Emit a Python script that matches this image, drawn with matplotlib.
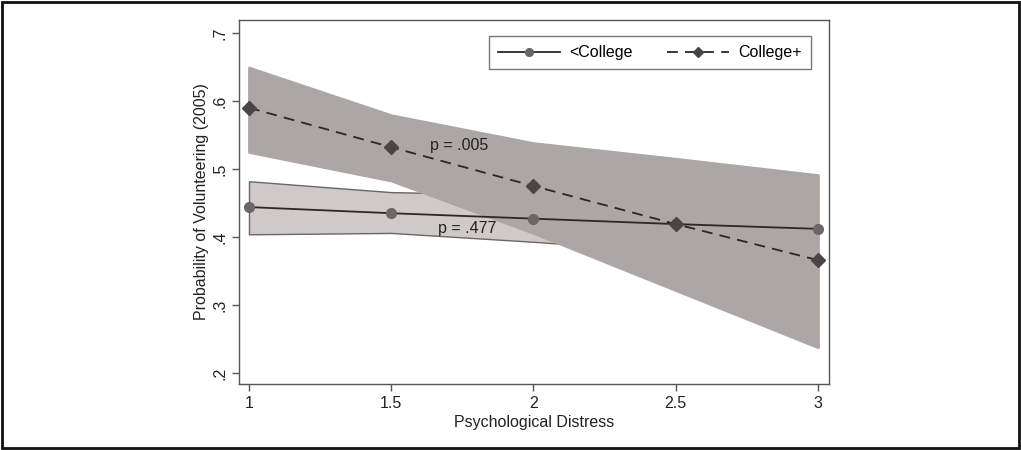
import matplotlib
matplotlib.use('Agg')
import matplotlib.pyplot as plt
from matplotlib.patches import Rectangle

# Psychological distress levels
distress = [1.0, 1.5, 2.0, 2.5, 3.0]

# <College: predicted probability and 95% CI
lowed_pred = [0.444, 0.435, 0.427, 0.419, 0.412]
lowed_hi = [0.482, 0.466, 0.462, 0.458, 0.455]
lowed_lo = [0.404, 0.406, 0.393, 0.378, 0.365]

# College+: predicted probability and 95% CI
coll_pred = [0.590, 0.532, 0.475, 0.419, 0.366]
coll_hi = [0.649, 0.579, 0.538, 0.515, 0.491]
coll_lo = [0.525, 0.483, 0.406, 0.322, 0.238]

yticks = [0.2, 0.3, 0.4, 0.5, 0.6, 0.7]
ytick_labels = ['.2', '.3', '.4', '.5', '.6', '.7']
xticks = [1, 1.5, 2, 2.5, 3]
xtick_labels = ['1', '1.5', '2', '2.5', '3']

plt.rcParams['font.family'] = ['Liberation Sans', 'DejaVu Sans']
FS = 11.5

fig = plt.figure(figsize=(10.21, 4.5), dpi=100)
ax = fig.add_axes([0.2341, 0.1467, 0.5779, 0.8089])

# confidence bands (College+ drawn opaque on top)
ax.fill_between(distress, lowed_lo, lowed_hi, facecolor='#cfc9c7',
                edgecolor='#6b6767', linewidth=1.0, zorder=1)
ax.fill_between(distress, coll_lo, coll_hi, facecolor='#aca6a4',
                edgecolor='#aca6a4', linewidth=2.0, zorder=2)

ax.plot(distress, lowed_pred, '-', color='#2b2727', linewidth=1.3,
        marker='o', markersize=7, markerfacecolor='#6b6767',
        markeredgecolor='#6b6767', label='<College', zorder=4)
ax.plot(distress, coll_pred, '--', color='#2b2727', linewidth=1.3,
        dashes=(6, 4), marker='D', markersize=7, markerfacecolor='#4a4444',
        markeredgecolor='#4a4444', label='College+', zorder=4)

ax.text(1.637, 0.534, 'p = .005', fontsize=FS, va='center', ha='left',
        color='#222222', zorder=5)
ax.text(1.665, 0.412, 'p = .477', fontsize=FS, va='center', ha='left',
        color='#222222', zorder=5)

ax.set_xlim(0.965, 3.039)
ax.set_ylim(0.184, 0.719)
ax.set_xticks(xticks)
ax.set_xticklabels(xtick_labels)
ax.set_yticks(yticks)
ax.set_yticklabels(ytick_labels, rotation=90, va='center')
ax.tick_params(direction='out', length=5, width=1, color='#555555',
               labelsize=FS, labelcolor='#222222')
for s in ax.spines.values():
    s.set_color('#555555')
    s.set_linewidth(1.0)

ax.set_xlabel('Psychological Distress', fontsize=FS, color='#222222',
              labelpad=3)
ax.set_ylabel('Probability of Volunteering (2005)', fontsize=FS,
              color='#222222', labelpad=2)

leg = ax.legend(loc='upper right', bbox_to_anchor=(0.977, 0.968), ncol=2,
                frameon=True, fancybox=False, fontsize=FS,
                handlelength=3.9, handletextpad=0.6, columnspacing=2.1,
                borderpad=0.55, borderaxespad=0.3, markerscale=0.8)
leg.get_frame().set_edgecolor('#555555')
leg.get_frame().set_linewidth(1.0)

# outer frame round the whole picture
fig.patches.append(Rectangle((0.002, 0.004), 0.996, 0.992,
                             transform=fig.transFigure, fill=False,
                             edgecolor='#111111', linewidth=2))

plt.savefig('out.png', dpi=100)
plt.close(fig)
